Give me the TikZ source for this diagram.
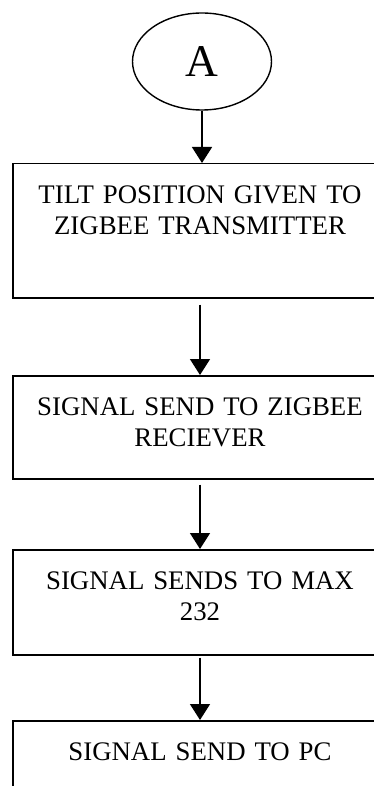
\documentclass[tikz,border=0pt]{standalone}
\usepackage{fontspec}
\setmainfont{Liberation Serif}
\usetikzlibrary{shapes.geometric,arrows.meta}
\tikzset{
  stepbox/.style={draw, line width=0.75pt, text width=187pt, align=center,
    inner sep=0pt, text height=20pt, anchor=north,
    font=\fontsize{13.4}{15.5}\selectfont},
  flowarrow/.style={-{Triangle[length=8pt,width=10pt]}, line width=0.75pt}
}
\begin{document}
\begin{tikzpicture}[x=0.5pt,y=-0.5pt]
\useasboundingbox (0,0) rectangle (374,786);
\node[ellipse, draw, line width=0.7pt, minimum width=69.5pt, minimum height=48.5pt,
  inner sep=0pt, font=\fontsize{22.7}{26}\selectfont] (A) at (202,61.5) {A};
\node[stepbox, text depth=47pt] (S1) at (200,163) {TILT POSITION GIVEN TO\\ZIGBEE TRANSMITTER};
\node[stepbox, text depth=31.5pt] (S2) at (200,375) {SIGNAL SEND TO ZIGBEE\\RECIEVER};
\node[stepbox, text depth=32.5pt] (S3) at (200,549) {SIGNAL SENDS TO MAX\\232};
\node[stepbox, text depth=40pt] (S4) at (200,720) {SIGNAL SEND TO PC};
\draw[flowarrow] (A.south) -- (A.south |- S1.north);
\draw[flowarrow, shorten <=3pt] (S1.south) -- (S2.north);
\draw[flowarrow, shorten <=2.5pt] (S2.south) -- (S3.north);
\draw[flowarrow, shorten <=1pt] (S3.south) -- (S4.north);
\end{tikzpicture}
\end{document}
